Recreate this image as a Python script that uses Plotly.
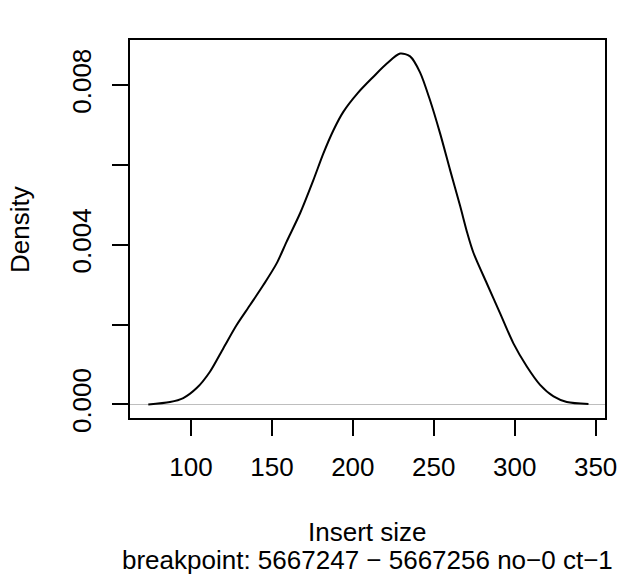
import plotly.graph_objects as go

# density estimate of insert sizes
insert_size = [73.6, 87.0, 95.2, 103.5, 111.7, 120.0, 128.2, 136.5, 144.7, 153.0,
               159.1, 167.4, 175.6, 181.8, 188.0, 194.1, 203.0, 212.7, 221.0, 229.2,
               235.4, 241.5, 247.7, 253.9, 260.1, 266.3, 270.8, 274.5, 282.8, 291.0,
               299.2, 307.5, 315.7, 324.0, 332.2, 345.6]
density = [0.0, 0.00006, 0.00016, 0.00041, 0.00082, 0.00141, 0.00199, 0.00249, 0.00299, 0.00354,
           0.00408, 0.00479, 0.00562, 0.00629, 0.00687, 0.00733, 0.00780, 0.00821, 0.00854, 0.00879,
           0.00872, 0.00832, 0.00762, 0.00679, 0.00587, 0.00497, 0.00428, 0.00380, 0.00303, 0.00228,
           0.00153, 0.00095, 0.00049, 0.0002, 0.00006, 0.00001]

x_ticks = [100, 150, 200, 250, 300, 350]
y_ticks = [0.0, 0.002, 0.004, 0.006, 0.008]
y_labels = ["0.000", "", "0.004", "", "0.008"]

fnt = "Liberation Sans, Arial, sans-serif"

fig = go.Figure()
fig.add_trace(go.Scatter(
    x=insert_size,
    y=density,
    mode='lines',
    line=dict(color='black', width=2, shape='spline', smoothing=0.8),
    showlegend=False,
    hoverinfo='skip'
))

fig.update_layout(
    width=619,
    height=575,
    margin=dict(l=130, r=14, t=40, b=157),
    paper_bgcolor='white',
    plot_bgcolor='white',
    font=dict(family=fnt, size=26, color='black'),
    xaxis=dict(
        range=[62.3, 355.8],
        tickvals=x_ticks,
        ticks='outside', ticklen=16, tickwidth=1.5, tickcolor='black',
        showline=True, linecolor='black', linewidth=1.5, mirror=True,
        showgrid=False, zeroline=False, automargin=False,
        ticklabelstandoff=9
    ),
    yaxis=dict(
        range=[-0.00034, 0.00913],
        tickvals=y_ticks,
        ticktext=y_labels,
        tickangle=-90,
        ticks='outside', ticklen=16, tickwidth=1.5, tickcolor='black',
        showline=True, linecolor='black', linewidth=1.5, mirror=True,
        showgrid=False, automargin=False,
        zeroline=True, zerolinecolor='#bebebe', zerolinewidth=1,
        ticklabelstandoff=11
    ),
    annotations=[
        dict(text="Density", x=-0.2316, y=0.5, xref='paper', yref='paper',
             textangle=-90, showarrow=False, xanchor='center', yanchor='middle'),
        dict(text="Insert size", x=0.5, y=-0.3016, xref='paper', yref='paper',
             showarrow=False, xanchor='center', yanchor='middle'),
        dict(text="breakpoint: 5667247 \u2212 5667256 no\u22120 ct\u22121", x=0.5, y=-0.376,
             xref='paper', yref='paper', showarrow=False, xanchor='center', yanchor='middle'),
    ]
)

# drop the default 8px body margin so the figure sits flush in the window
fig.write_html("out.html", config={'displayModeBar': False},
               post_script="document.body.style.margin='0px';")
